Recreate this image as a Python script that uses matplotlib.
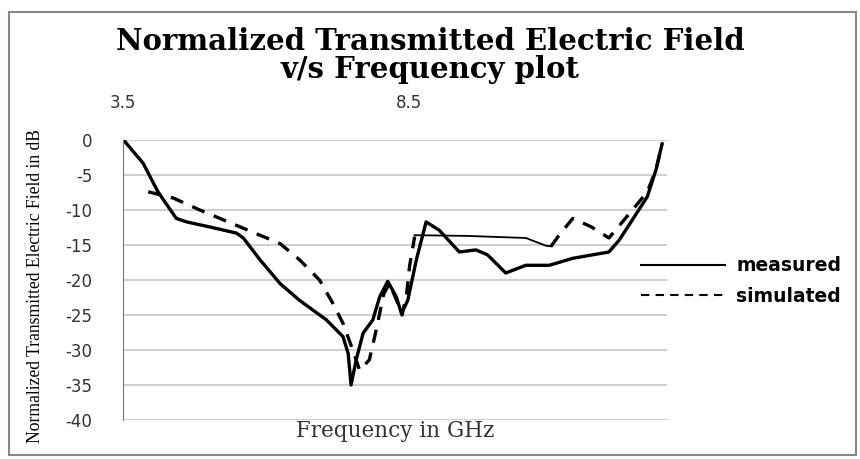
import matplotlib
matplotlib.use("Agg")
import matplotlib.pyplot as plt
from matplotlib.lines import Line2D
from matplotlib.patches import Rectangle

# measured curve (GHz, dB)
meas_f = [3.53, 3.85, 4.11, 4.43, 4.61, 5.0, 5.48, 5.6, 5.89, 6.24, 6.58, 7.05,
          7.34, 7.43, 7.48, 7.57, 7.69, 7.86, 7.98, 8.12, 8.27, 8.36, 8.47,
          8.62, 8.79, 9.02, 9.37, 9.66, 9.86, 10.18, 10.53, 10.94, 11.35,
          11.98, 12.16, 12.39, 12.65, 12.8, 12.91]
meas_db = [-0.2, -3.3, -7.4, -11.2, -11.7, -12.4, -13.3, -14.0, -17.1, -20.5,
           -22.9, -25.7, -28.1, -30.5, -35.0, -31.4, -27.6, -25.7, -22.4,
           -20.2, -22.4, -24.8, -22.9, -17.1, -11.7, -12.9, -16.0, -15.7,
           -16.4, -19.0, -17.9, -17.9, -16.9, -16.0, -14.3, -11.4, -8.1,
           -4.3, -0.5]

# simulated curve, dashed parts and the thin flat section in the middle
sim_f1 = [3.94, 4.38, 4.84, 5.54, 6.24, 6.58, 6.93, 7.16, 7.34, 7.51, 7.63,
          7.8, 7.92, 8.05, 8.15, 8.28, 8.37, 8.45, 8.5, 8.59]
sim_db1 = [-7.4, -8.3, -10.0, -12.4, -14.8, -17.1, -20.0, -23.3, -26.2, -30.0,
           -32.9, -31.4, -27.1, -22.0, -20.5, -23.0, -25.0, -22.0, -18.1, -13.8]
sim_f2 = [8.59, 9.5, 10.53, 10.88, 10.97]
sim_db2 = [-13.6, -13.7, -14.0, -15.1, -15.2]
sim_f3 = [10.97, 11.11, 11.35, 11.67, 11.98, 12.39, 12.65, 12.8, 12.91]
sim_db3 = [-15.2, -13.6, -11.2, -12.4, -14.0, -10.0, -7.4, -4.3, -0.5]

y_ticks = [0, -5, -10, -15, -20, -25, -30, -35, -40]
x_ticks = [3.5, 8.5]

fig = plt.figure(figsize=(8.6, 4.59), dpi=100)
fig.patches.append(Rectangle((0.01, 0.008), 0.985, 0.965, transform=fig.transFigure,
                             fill=False, edgecolor="#888888", linewidth=1.5))
ax = fig.add_axes([0.143, 0.085, 0.633, 0.61])

ax.plot(meas_f, meas_db, color="black", linewidth=2.4, solid_capstyle="round")
ax.plot(sim_f1, sim_db1, color="black", linewidth=2.4, linestyle=(0, (4, 3)))
ax.plot(sim_f2, sim_db2, color="black", linewidth=1.3)
ax.plot(sim_f3, sim_db3, color="black", linewidth=2.4, linestyle=(0, (4, 3)))

ax.set_xlim(3.5, 13.0)
ax.set_ylim(-40, 0)
ax.set_yticks(y_ticks)
ax.set_yticklabels([str(v) for v in y_ticks], fontsize=12, color="#333333")
ax.xaxis.tick_top()
ax.set_xticks(x_ticks)
ax.set_xticklabels([str(v) for v in x_ticks], fontsize=12, color="#333333")
ax.tick_params(axis="x", length=0, pad=20)
ax.tick_params(axis="y", length=0, pad=22)
ax.grid(axis="y", color="#d0d0d0", linewidth=1.5)
ax.set_axisbelow(True)
for s in ["top", "right", "bottom"]:
    ax.spines[s].set_visible(False)
ax.spines["left"].set_color("#777777")

ax.set_xlabel("Frequency in GHz", fontsize=15.5, color="#333333",
              family="DejaVu Serif", labelpad=0)
ax.set_ylabel("Normalized Transmitted Electric Field in dB", fontsize=12.7,
              family="Liberation Serif")
ax.yaxis.set_label_coords(-0.145, 0.48)

fig.text(0.5, 0.88, "Normalized Transmitted Electric Field\nv/s Frequency plot",
         ha="center", va="center", fontsize=21, fontweight="bold",
         family="DejaVu Serif", linespacing=0.95)

handles = [Line2D([], [], color="black", linewidth=1.5),
           Line2D([], [], color="black", linewidth=1.5, linestyle=(0, (4, 3)))]
ax.legend(handles, ["measured", "simulated"], loc="upper left",
          bbox_to_anchor=(0.92, 0.645), frameon=False,
          prop={"size": 13.5, "weight": "bold"},
          handlelength=4.5, handletextpad=0.6, labelspacing=0.6)

fig.savefig("out.png", dpi=100)
